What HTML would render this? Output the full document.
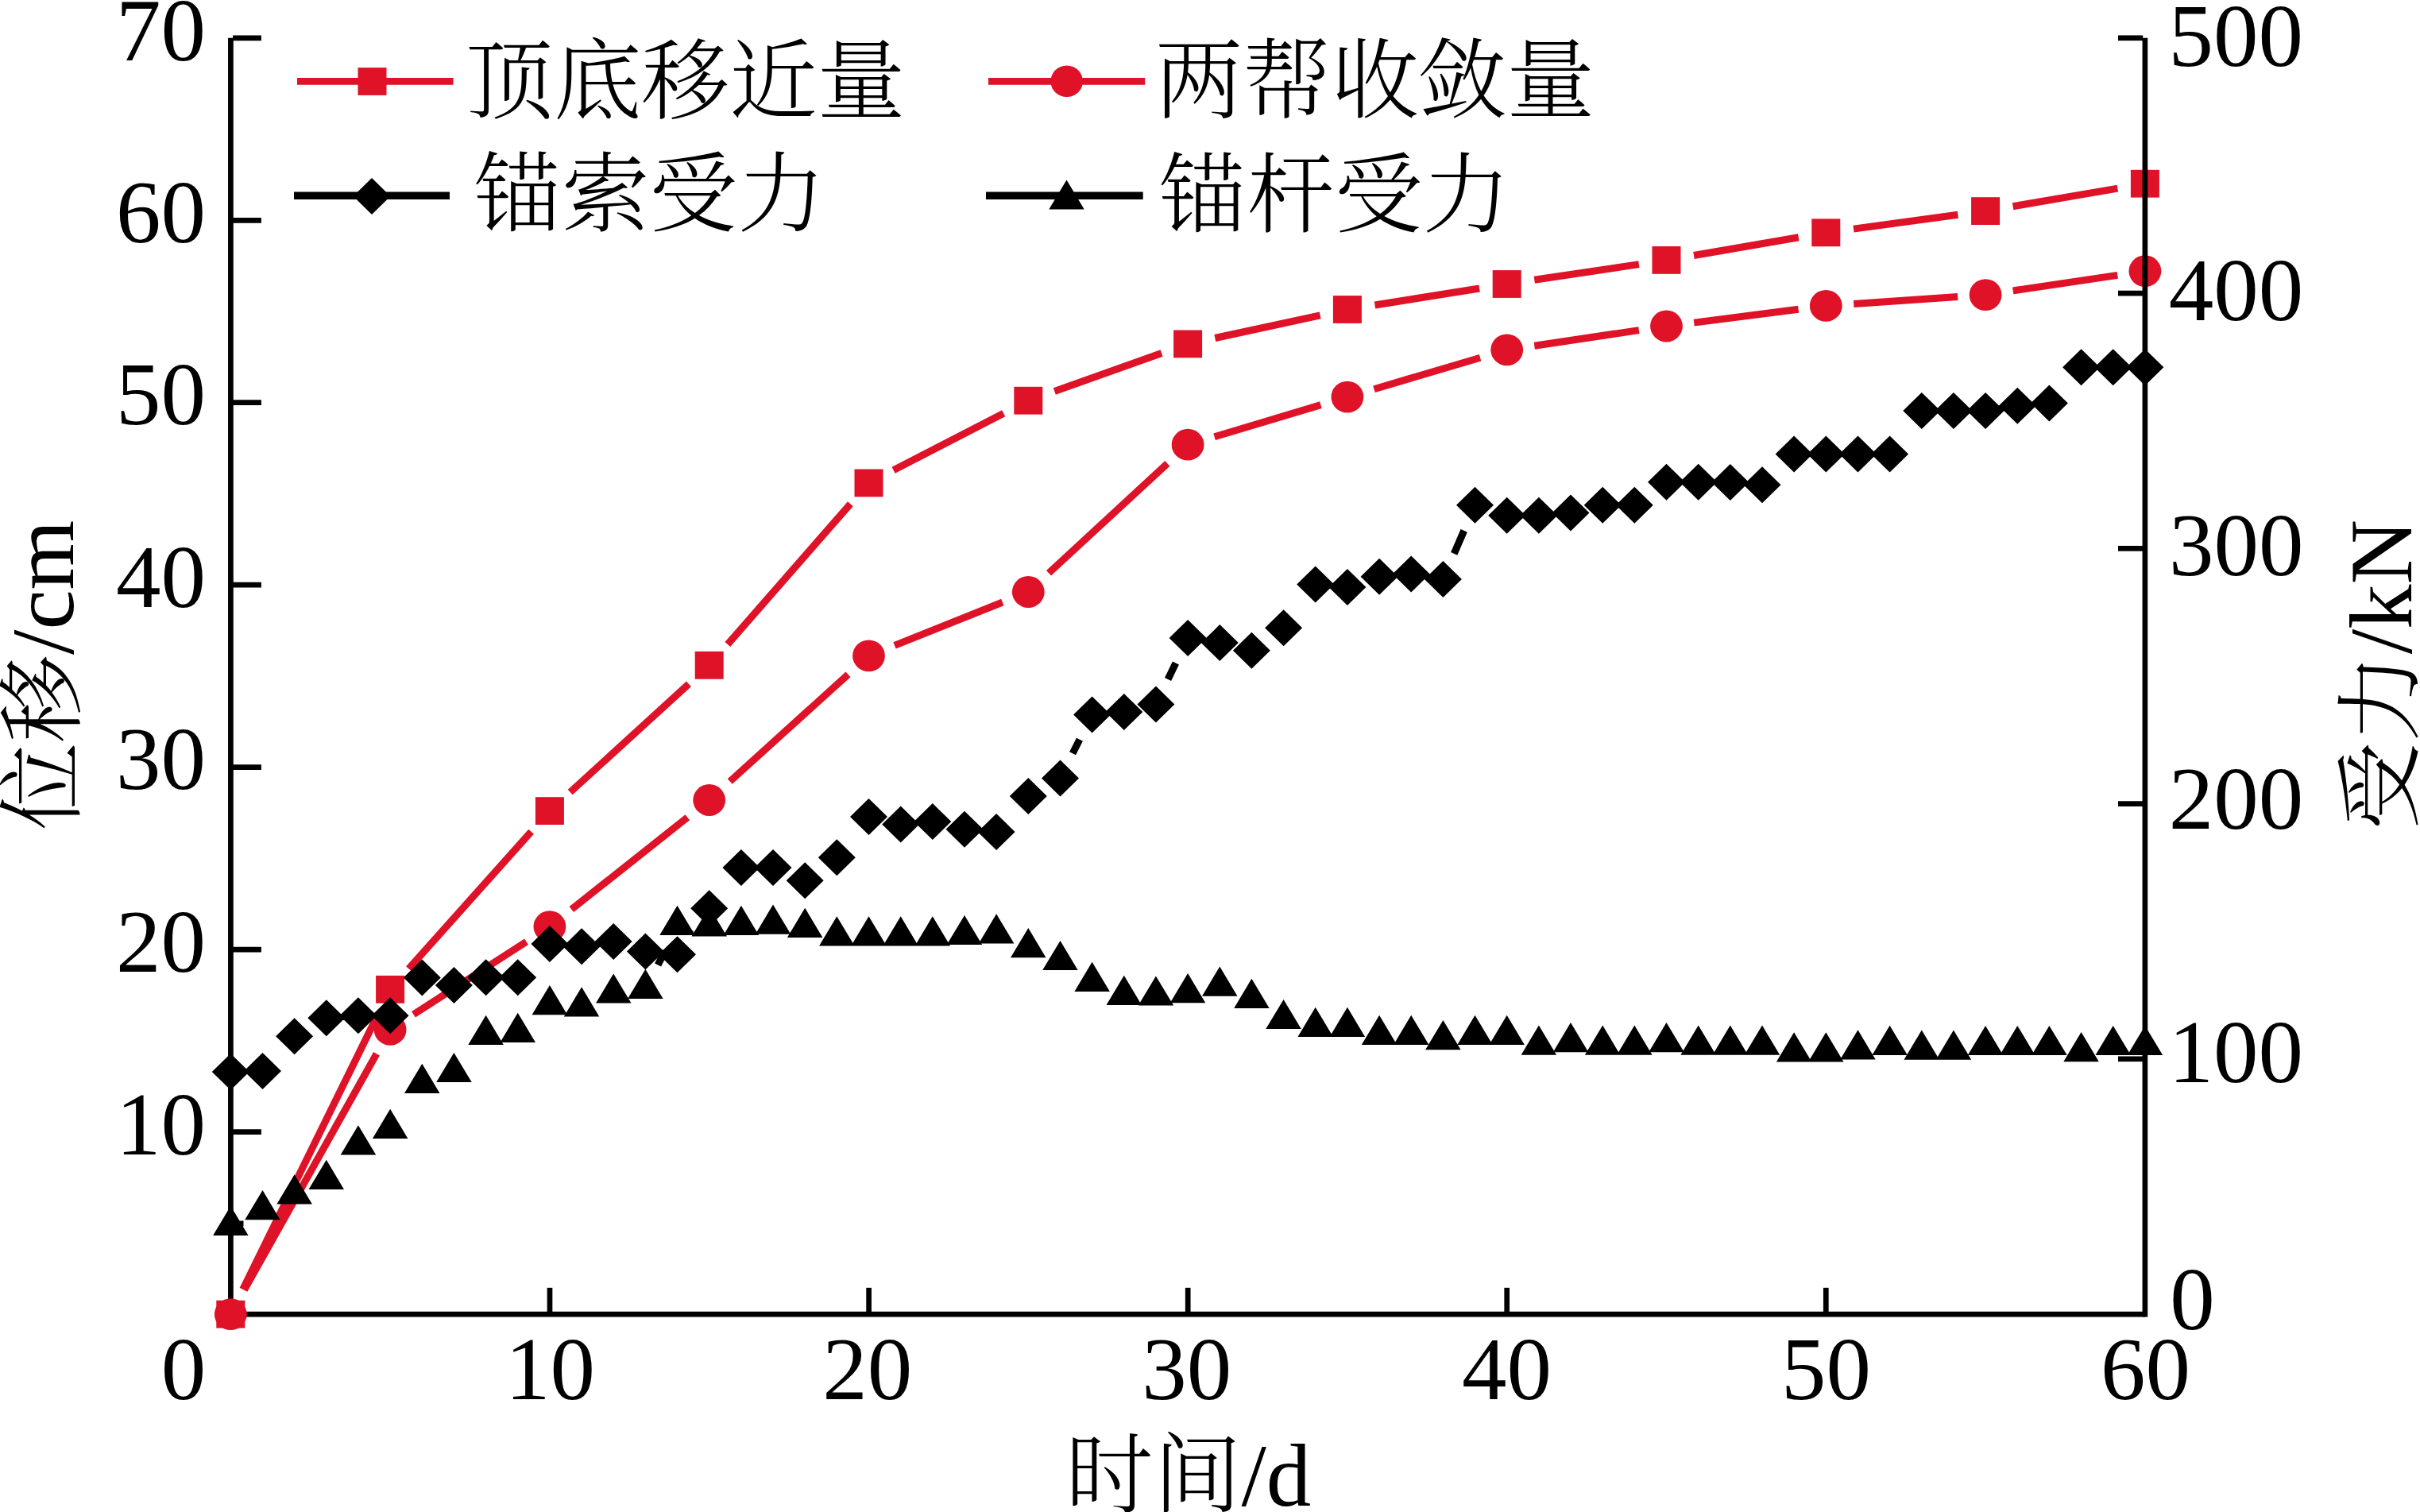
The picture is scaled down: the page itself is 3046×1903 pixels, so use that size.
<!DOCTYPE html>
<html lang="zh"><head><meta charset="utf-8"><title>chart</title>
<style>html,body{margin:0;padding:0;background:#fff}body{width:3046px;height:1903px;overflow:hidden}svg{display:block}</style>
</head><body>
<svg width="3046" height="1903" viewBox="0 0 3046 1903">
<rect width="3046" height="1903" fill="#fff"/>
<g id="gfx">
<g id="axes1" stroke="#000" stroke-width="6.7" fill="none" stroke-linecap="butt">
<path d="M290.4 47.8V1657.4499999999998"/>
<path d="M290.4 1654.1H2699.9"/>
<path d="M293.1 1424.6H328.9"/>
<path d="M293.1 1195.2H328.9"/>
<path d="M293.1 965.7H328.9"/>
<path d="M293.1 736.2H328.9"/>
<path d="M293.1 506.7H328.9"/>
<path d="M293.1 277.3H328.9"/>
<path d="M293.1 47.8H328.9"/>
<path d="M692.0 1651.3V1620.8"/>
<path d="M1093.6 1651.3V1620.8"/>
<path d="M1495.2 1651.3V1620.8"/>
<path d="M1896.7 1651.3V1620.8"/>
<path d="M2298.3 1651.3V1620.8"/>
<rect x="293" y="1536.5" width="13.5" height="7" fill="#000" stroke="none"/>
</g>
<g id="red" fill="#df1228" stroke="none">
<path d="M305.7 1622.7L475.7 1276.7 M514.4 1219.2L668.6 1046.7 M717.7 997.0L866.9 860.9 M915.8 811.0L1070.4 634.2 M1124.6 591.8L1263.2 520.3 M1327.3 492.5L1462.1 444.6 M1529.3 425.5L1661.7 396.9 M1730.5 384.0L1862.1 363.0 M1931.3 352.3L2062.9 332.6 M2132.0 321.5L2263.8 298.7 M2333.0 288.1L2464.4 270.3 M2533.6 259.7L2665.4 237.1" stroke="#df1228" stroke-width="9.0" fill="none"/>
<path d="M307.4 1623.6L474.0 1326.3 M520.5 1276.8L662.5 1185.2 M719.3 1144.5L865.3 1028.7 M918.7 983.5L1067.5 848.9 M1126.0 812.4L1261.8 758.0 M1320.0 721.3L1469.4 583.4 M1528.6 549.7L1662.4 509.6 M1729.5 489.7L1863.1 450.2 M1931.3 435.2L2062.9 415.6 M2132.2 406.1L2263.6 389.2 M2333.2 382.4L2464.2 373.5 M2533.7 365.9L2665.3 346.4" stroke="#df1228" stroke-width="9.0" fill="none"/>
<rect x="272.3" y="1636.7" width="36" height="34.8"/>
<rect x="473.1" y="1227.9" width="36" height="34.8"/>
<rect x="673.9" y="1003.2" width="36" height="34.8"/>
<rect x="874.7" y="819.9" width="36" height="34.8"/>
<rect x="1075.5" y="590.5" width="36" height="34.8"/>
<rect x="1276.3" y="486.8" width="36" height="34.8"/>
<rect x="1477.1" y="415.5" width="36" height="34.8"/>
<rect x="1677.9" y="372.1" width="36" height="34.8"/>
<rect x="1878.7" y="340.1" width="36" height="34.8"/>
<rect x="2079.5" y="310.0" width="36" height="34.8"/>
<rect x="2280.3" y="275.4" width="36" height="34.8"/>
<rect x="2481.1" y="248.2" width="36" height="34.8"/>
<rect x="2681.9" y="213.8" width="36" height="34.8"/>
<ellipse cx="290.3" cy="1654.1" rx="20.4" ry="19.9"/>
<ellipse cx="491.1" cy="1295.8" rx="20.4" ry="19.9"/>
<ellipse cx="691.9" cy="1166.2" rx="20.4" ry="19.9"/>
<ellipse cx="892.7" cy="1007.0" rx="20.4" ry="19.9"/>
<ellipse cx="1093.5" cy="825.4" rx="20.4" ry="19.9"/>
<ellipse cx="1294.3" cy="745.0" rx="20.4" ry="19.9"/>
<ellipse cx="1495.1" cy="559.7" rx="20.4" ry="19.9"/>
<ellipse cx="1695.9" cy="499.6" rx="20.4" ry="19.9"/>
<ellipse cx="1896.7" cy="440.3" rx="20.4" ry="19.9"/>
<ellipse cx="2097.5" cy="410.5" rx="20.4" ry="19.9"/>
<ellipse cx="2298.3" cy="384.8" rx="20.4" ry="19.9"/>
<ellipse cx="2499.1" cy="371.1" rx="20.4" ry="19.9"/>
<ellipse cx="2699.9" cy="341.2" rx="20.4" ry="19.9"/>
</g>
<g id="axes2" stroke="#000" stroke-width="6.7" fill="none" stroke-linecap="butt">
<path d="M2699.9 47.8V1657.4499999999998"/>
<path d="M2697.2 1332.8H2666"/>
<path d="M2697.2 1011.6H2666"/>
<path d="M2697.2 690.3H2666"/>
<path d="M2697.2 369.1H2666"/>
<path d="M2697.2 47.8H2666"/>
</g>
<g id="blk" fill="#000" stroke="none">
<path d="M872.5 1172.5L872.8 1172.1 M1350.1 948.2L1358.9 930.7 M1470.1 855.0L1479.9 834.5 M1830.2 696.9L1842.7 667.9" stroke="#000" stroke-width="9.0" fill="none"/>
<path d="M266.8 1349.1L290.3 1326.1L313.8 1349.1L290.3 1372.1ZM307.0 1348.1L330.5 1325.1L354.0 1348.1L330.5 1371.1ZM347.1 1304.3L370.6 1281.3L394.1 1304.3L370.6 1327.3ZM387.3 1281.3L410.8 1258.3L434.3 1281.3L410.8 1304.3ZM427.4 1278.3L450.9 1255.3L474.4 1278.3L450.9 1301.3ZM467.6 1278.3L491.1 1255.3L514.6 1278.3L491.1 1301.3ZM507.8 1230.4L531.3 1207.4L554.8 1230.4L531.3 1253.4ZM547.9 1239.9L571.4 1216.9L594.9 1239.9L571.4 1262.9ZM588.1 1230.2L611.6 1207.2L635.1 1230.2L611.6 1253.2ZM628.2 1230.2L651.7 1207.2L675.2 1230.2L651.7 1253.2ZM668.4 1188.1L691.9 1165.1L715.4 1188.1L691.9 1211.1ZM708.6 1191.3L732.1 1168.3L755.6 1191.3L732.1 1214.3ZM748.7 1185.0L772.2 1162.0L795.7 1185.0L772.2 1208.0ZM788.9 1197.6L812.4 1174.6L835.9 1197.6L812.4 1220.6ZM829.0 1201.3L852.5 1178.3L876.0 1201.3L852.5 1224.3ZM869.2 1143.3L892.7 1120.3L916.2 1143.3L892.7 1166.3ZM909.4 1091.9L932.9 1068.9L956.4 1091.9L932.9 1114.9ZM949.5 1091.9L973.0 1068.9L996.5 1091.9L973.0 1114.9ZM989.7 1108.2L1013.2 1085.2L1036.7 1108.2L1013.2 1131.2ZM1029.8 1079.3L1053.3 1056.3L1076.8 1079.3L1053.3 1102.3ZM1070.0 1027.9L1093.5 1004.9L1117.0 1027.9L1093.5 1050.9ZM1110.2 1037.5L1133.7 1014.5L1157.2 1037.5L1133.7 1060.5ZM1150.3 1034.1L1173.8 1011.1L1197.3 1034.1L1173.8 1057.1ZM1190.5 1043.8L1214.0 1020.8L1237.5 1043.8L1214.0 1066.8ZM1230.6 1047.1L1254.1 1024.1L1277.6 1047.1L1254.1 1070.1ZM1270.8 1002.1L1294.3 979.1L1317.8 1002.1L1294.3 1025.1ZM1311.0 979.5L1334.5 956.5L1358.0 979.5L1334.5 1002.5ZM1351.1 899.4L1374.6 876.4L1398.1 899.4L1374.6 922.4ZM1391.3 896.0L1414.8 873.0L1438.3 896.0L1414.8 919.0ZM1431.4 886.5L1454.9 863.5L1478.4 886.5L1454.9 909.5ZM1471.6 803.0L1495.1 780.0L1518.6 803.0L1495.1 826.0ZM1511.8 809.1L1535.3 786.1L1558.8 809.1L1535.3 832.1ZM1551.9 818.7L1575.4 795.7L1598.9 818.7L1575.4 841.7ZM1592.1 790.3L1615.6 767.3L1639.1 790.3L1615.6 813.3ZM1632.2 735.6L1655.7 712.6L1679.2 735.6L1655.7 758.6ZM1672.4 738.9L1695.9 715.9L1719.4 738.9L1695.9 761.9ZM1712.6 725.7L1736.1 702.7L1759.6 725.7L1736.1 748.7ZM1752.7 722.5L1776.2 699.5L1799.7 722.5L1776.2 745.5ZM1792.9 729.1L1816.4 706.1L1839.9 729.1L1816.4 752.1ZM1833.0 635.7L1856.5 612.7L1880.0 635.7L1856.5 658.7ZM1873.2 648.8L1896.7 625.8L1920.2 648.8L1896.7 671.8ZM1913.4 648.8L1936.9 625.8L1960.4 648.8L1936.9 671.8ZM1953.5 645.5L1977.0 622.5L2000.5 645.5L1977.0 668.5ZM1993.7 635.7L2017.2 612.7L2040.7 635.7L2017.2 658.7ZM2033.8 635.7L2057.3 612.7L2080.8 635.7L2057.3 658.7ZM2074.0 606.8L2097.5 583.8L2121.0 606.8L2097.5 629.8ZM2114.2 606.8L2137.7 583.8L2161.2 606.8L2137.7 629.8ZM2154.3 606.9L2177.8 583.9L2201.3 606.9L2177.8 629.9ZM2194.5 610.3L2218.0 587.3L2241.5 610.3L2218.0 633.3ZM2234.6 571.6L2258.1 548.6L2281.6 571.6L2258.1 594.6ZM2274.8 571.6L2298.3 548.6L2321.8 571.6L2298.3 594.6ZM2315.0 571.6L2338.5 548.6L2362.0 571.6L2338.5 594.6ZM2355.1 571.6L2378.6 548.6L2402.1 571.6L2378.6 594.6ZM2395.3 516.9L2418.8 493.9L2442.3 516.9L2418.8 539.9ZM2435.4 516.9L2458.9 493.9L2482.4 516.9L2458.9 539.9ZM2475.6 516.9L2499.1 493.9L2522.6 516.9L2499.1 539.9ZM2515.8 510.7L2539.3 487.7L2562.8 510.7L2539.3 533.7ZM2555.9 507.4L2579.4 484.4L2602.9 507.4L2579.4 530.4ZM2596.1 462.3L2619.6 439.3L2643.1 462.3L2619.6 485.3ZM2636.2 462.3L2659.7 439.3L2683.2 462.3L2659.7 485.3ZM2676.4 462.3L2699.9 439.3L2723.4 462.3L2699.9 485.3Z"/>
<path d="M828.1 1214.5L836.8 1197.1" stroke="#000" stroke-width="9.0" fill="none"/>
<path d="M268.1 1555.0L290.3 1517.8L312.6 1555.0ZM308.2 1535.3L330.5 1498.1L352.7 1535.3ZM348.4 1515.4L370.6 1478.2L392.9 1515.4ZM388.5 1497.0L410.8 1459.8L433.0 1497.0ZM428.7 1453.4L450.9 1416.2L473.2 1453.4ZM468.9 1433.0L491.1 1395.8L513.4 1433.0ZM509.0 1376.0L531.3 1338.8L553.5 1376.0ZM549.2 1362.1L571.4 1324.9L593.7 1362.1ZM589.3 1315.0L611.6 1277.8L633.8 1315.0ZM629.5 1312.0L651.7 1274.8L674.0 1312.0ZM669.6 1277.2L691.9 1240.0L714.1 1277.2ZM709.8 1279.5L732.1 1242.3L754.3 1279.5ZM750.0 1262.6L772.2 1225.4L794.5 1262.6ZM790.1 1257.0L812.4 1219.8L834.6 1257.0ZM830.3 1177.0L852.5 1139.8L874.8 1177.0ZM870.5 1178.5L892.7 1141.3L915.0 1178.5ZM910.6 1177.0L932.9 1139.8L955.1 1177.0ZM950.8 1175.8L973.0 1138.6L995.3 1175.8ZM990.9 1180.0L1013.2 1142.8L1035.4 1180.0ZM1031.1 1190.4L1053.3 1153.2L1075.6 1190.4ZM1071.2 1190.4L1093.5 1153.2L1115.8 1190.4ZM1111.4 1190.4L1133.7 1153.2L1155.9 1190.4ZM1151.6 1190.4L1173.8 1153.2L1196.1 1190.4ZM1191.7 1189.1L1214.0 1151.9L1236.2 1189.1ZM1231.9 1187.4L1254.1 1150.2L1276.4 1187.4ZM1272.0 1205.3L1294.3 1168.1L1316.5 1205.3ZM1312.2 1221.1L1334.5 1183.9L1356.7 1221.1ZM1352.4 1247.9L1374.6 1210.7L1396.9 1247.9ZM1392.5 1265.0L1414.8 1227.8L1437.0 1265.0ZM1432.7 1265.6L1454.9 1228.4L1477.2 1265.6ZM1472.8 1262.3L1495.1 1225.1L1517.3 1262.3ZM1513.0 1253.7L1535.3 1216.5L1557.5 1253.7ZM1553.2 1268.9L1575.4 1231.7L1597.7 1268.9ZM1593.3 1295.1L1615.6 1257.9L1637.8 1295.1ZM1633.5 1304.9L1655.7 1267.7L1678.0 1304.9ZM1673.6 1304.9L1695.9 1267.7L1718.1 1304.9ZM1713.8 1315.0L1736.1 1277.8L1758.3 1315.0ZM1754.0 1315.0L1776.2 1277.8L1798.5 1315.0ZM1794.1 1321.3L1816.4 1284.1L1838.6 1321.3ZM1834.3 1315.0L1856.5 1277.8L1878.8 1315.0ZM1874.4 1315.0L1896.7 1277.8L1918.9 1315.0ZM1914.6 1327.8L1936.9 1290.6L1959.1 1327.8ZM1954.8 1324.3L1977.0 1287.1L1999.3 1324.3ZM1994.9 1327.8L2017.2 1290.6L2039.4 1327.8ZM2035.1 1327.8L2057.3 1290.6L2079.6 1327.8ZM2075.2 1324.3L2097.5 1287.1L2119.8 1324.3ZM2115.4 1327.8L2137.7 1290.6L2159.9 1327.8ZM2155.6 1327.8L2177.8 1290.6L2200.1 1327.8ZM2195.7 1327.8L2218.0 1290.6L2240.2 1327.8ZM2235.9 1336.4L2258.1 1299.2L2280.4 1336.4ZM2276.0 1336.4L2298.3 1299.2L2320.5 1336.4ZM2316.2 1333.4L2338.5 1296.2L2360.7 1333.4ZM2356.4 1327.9L2378.6 1290.7L2400.9 1327.9ZM2396.5 1333.7L2418.8 1296.5L2441.0 1333.7ZM2436.7 1333.7L2458.9 1296.5L2481.2 1333.7ZM2476.8 1328.1L2499.1 1290.9L2521.3 1328.1ZM2517.0 1328.1L2539.3 1290.9L2561.5 1328.1ZM2557.2 1328.1L2579.4 1290.9L2601.7 1328.1ZM2597.3 1336.2L2619.6 1299.0L2641.8 1336.2ZM2637.5 1328.1L2659.7 1290.9L2682.0 1328.1ZM2677.7 1328.1L2699.9 1290.9L2722.2 1328.1Z"/>
</g>
<g id="legend">
<path d="M374 102.4H570.5M1244 102.4H1441.2" stroke="#df1228" stroke-width="8.8"/>
<rect x="450.5" y="85.1" width="36" height="34.8" fill="#df1228"/>
<ellipse cx="1342.7" cy="102.3" rx="20.3" ry="19.8" fill="#df1228"/>
<path d="M370 246.2H566M1241 246.2H1438.7" stroke="#000" stroke-width="9.6"/>
<path d="M444.6 247L468 224L491.4 247L468 270Z" fill="#000"/>
<path d="M1320.3 263.5L1342.5 226.4L1364.7 263.5Z" fill="#000"/>
</g>
</g>
<g id="txt" font-family="'Liberation Serif','Noto Serif CJK SC',serif" fill="#000">
<text id="L1" font-size="110.7" text-anchor="start" font-weight="300" x="586.0" y="140.6">顶底移近量</text>
<text id="L2" font-size="110.7" text-anchor="start" font-weight="300" x="596.2" y="283.4">锚索受力</text>
<text id="L3" font-size="110.7" text-anchor="start" font-weight="300" x="1453.8" y="140.0">两帮收敛量</text>
<text id="L4" font-size="110.7" text-anchor="start" font-weight="300" x="1458.5" y="283.8">锚杆受力</text>
<text id="yl1" font-size="113" text-anchor="end" x="259.0" y="1452.8">10</text>
<text id="yl2" font-size="113" text-anchor="end" x="259.0" y="1223.2">20</text>
<text id="yl3" font-size="113" text-anchor="end" x="259.0" y="993.2">30</text>
<text id="yl4" font-size="113" text-anchor="end" x="259.0" y="764.2">40</text>
<text id="yl5" font-size="113" text-anchor="end" x="259.0" y="534.2">50</text>
<text id="yl6" font-size="113" text-anchor="end" x="259.0" y="304.6">60</text>
<text id="yl7" font-size="113" text-anchor="end" x="259.0" y="75.6">70</text>
<text id="o0" font-size="113" text-anchor="end" x="259.3" y="1760.8">0</text>
<text id="xl1" font-size="113" text-anchor="middle" x="692.4" y="1760.8">10</text>
<text id="xl2" font-size="113" text-anchor="middle" x="1091.7" y="1760.8">20</text>
<text id="xl3" font-size="113" text-anchor="middle" x="1493.7" y="1760.8">30</text>
<text id="xl4" font-size="113" text-anchor="middle" x="1896.6" y="1760.8">40</text>
<text id="xl5" font-size="113" text-anchor="middle" x="2298.4" y="1760.8">50</text>
<text id="xl6" font-size="113" text-anchor="middle" x="2700.4" y="1760.8">60</text>
<text id="yr0" font-size="113" text-anchor="start" x="2731.2" y="1672.9">0</text>
<text id="yr1" font-size="113" text-anchor="start" x="2729.6" y="1362.3">100</text>
<text id="yr2" font-size="113" text-anchor="start" x="2729.8" y="1042.9">200</text>
<text id="yr3" font-size="113" text-anchor="start" x="2730.0" y="723.7">300</text>
<text id="yr4" font-size="113" text-anchor="start" x="2729.8" y="402.9">400</text>
<text id="yr5" font-size="113" text-anchor="start" x="2729.6" y="83.3">500</text>
<text id="xt" font-size="110.7" text-anchor="middle" font-weight="300" x="1495.7" y="1894.9"><tspan>时间</tspan><tspan font-size="113" font-weight="400">/d</tspan></text>
<text id="ytl" font-size="110.7" text-anchor="middle" font-weight="300" transform="translate(91.9 849.9) rotate(-90)"><tspan>位移</tspan><tspan font-size="113" font-weight="400">/cm</tspan></text>
<text id="ytr" font-size="110.7" text-anchor="middle" font-weight="300" transform="translate(3034.6 849.3) rotate(-90)"><tspan>受力</tspan><tspan font-size="113" font-weight="400">/kN</tspan></text>
</g>
</svg>
</body></html>
